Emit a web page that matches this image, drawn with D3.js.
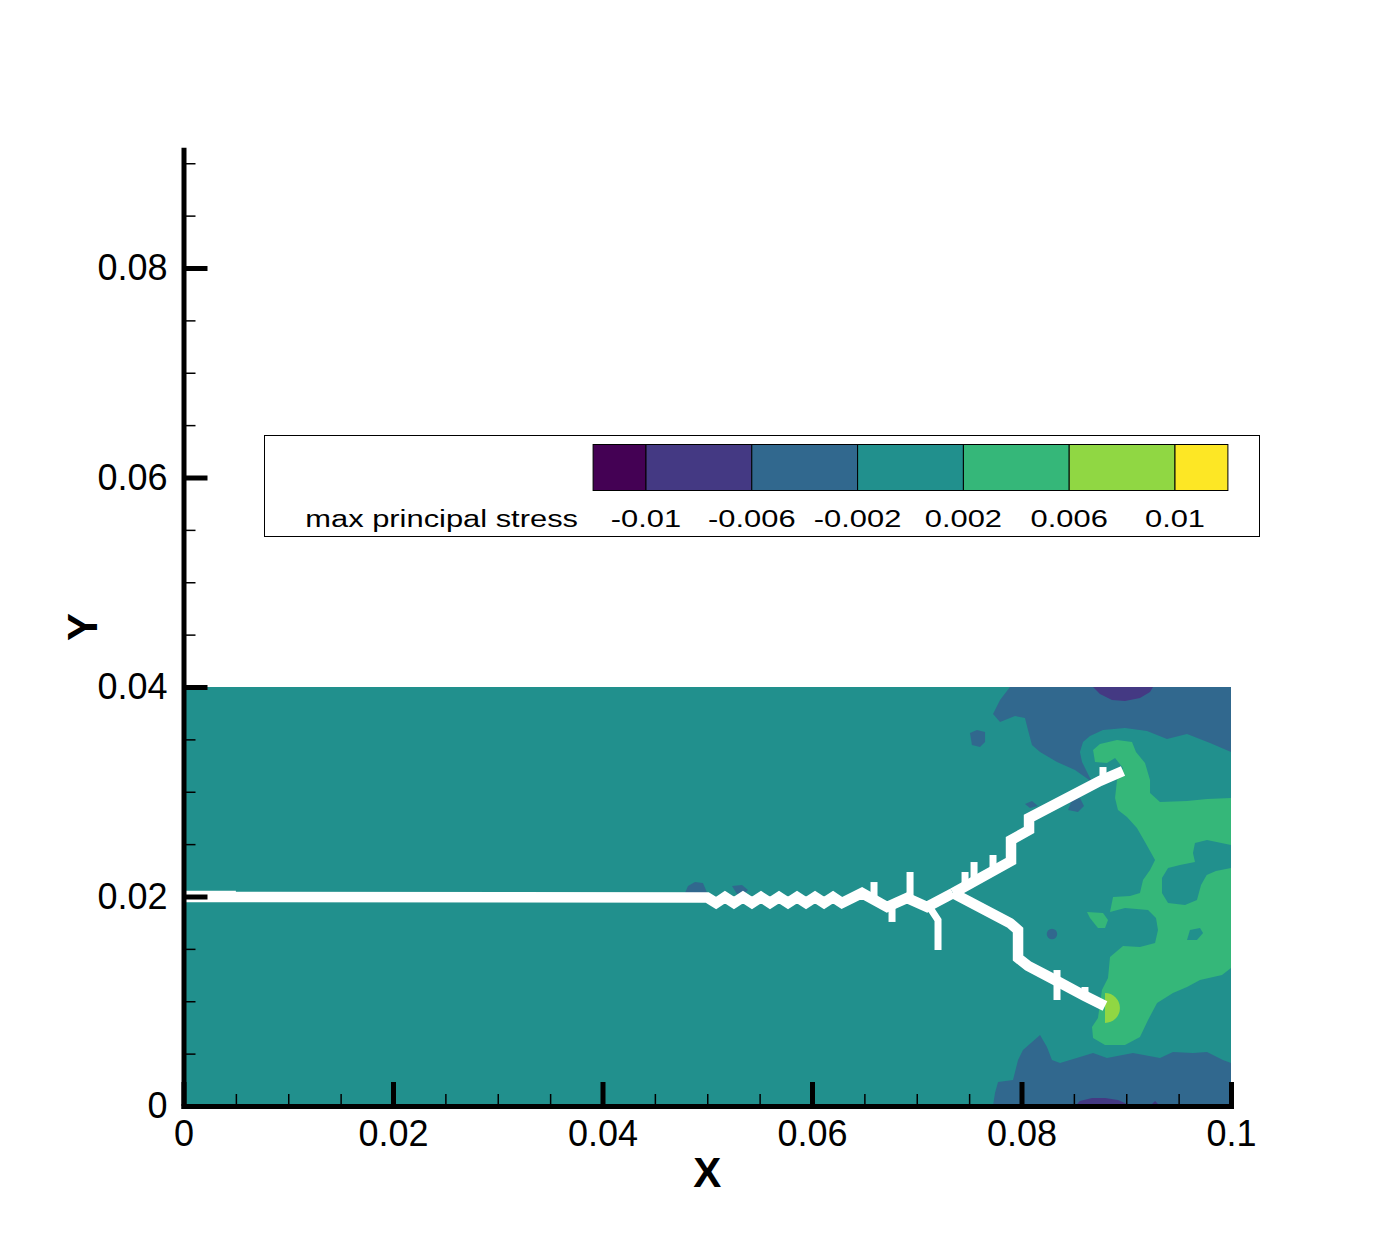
<!DOCTYPE html>
<html lang="en">
<head>
<meta charset="UTF-8">
<title>max principal stress</title>
<script src="https://d3js.org/d3.v7.min.js"></script>
<style>
    body { margin: 0; background: #fff; }
    svg text { font-family: "Liberation Sans", Arial, Helvetica, sans-serif; fill: #000; }
    .tick text { font-size: 36px; font-family: "Liberation Sans", Arial, sans-serif; }
    .axis-title { font-size: 42px; font-weight: bold; }
    .leg-text { font-size: 24.5px; }
</style>
</head>
<body>
<svg id="canvas" width="1400" height="1245"></svg>
<script>
// contour levels + viridis band colours
let levels = [-0.01, -0.006, -0.002, 0.002, 0.006, 0.01];
let levelLabels = ["-0.01", "-0.006", "-0.002", "0.002", "0.006", "0.01"];
let bandColors = ["#440154", "#443983", "#31688e", "#21908d", "#35b779", "#90d743", "#fde725"];
let legendRange = [-0.012, 0.012];

// axes (mm, labels in m)
let xMajor = [0, 20, 40, 60, 80, 100];
let xTickLabels = ["0", "0.02", "0.04", "0.06", "0.08", "0.1"];
let yMajor = [0, 20, 40, 60, 80];
let yTickLabels = ["0", "0.02", "0.04", "0.06", "0.08"];
let yTop = 91.3;

// domain of the plate (mm)
let plate = [[0, 0], [100, 40]];

// stress patches, coordinates in mm, value = representative stress
let blueTop = [[78.90,40.0],[100,40.0],[100,33.79],[98.0,34.65],[95.80,35.51],[93.89,35.04],[91.98,35.80],[89.88,36.09],[87.78,35.89],[86.54,35.32],[85.87,34.75],[85.58,33.79],[85.78,32.84],[86.73,30.93],[85.11,32.08],[83.39,32.84],[81.77,33.79],[81.0,34.46],[80.62,35.89],[80.33,37.04],[79.38,37.23],[77.95,36.66],[77.28,37.42],[77.95,38.76]];
let purpleTop = [[86.83,40.0],[87.49,39.33],[88.64,38.76],[89.88,38.66],[91.31,38.95],[92.27,39.52],[92.55,40.0]];
let blueBottom = [[77.28,0],[77.47,1.24],[77.76,2.29],[79.19,2.48],[79.67,4.39],[80.14,5.35],[81.77,6.78],[82.43,5.63],[82.91,4.39],[83.68,4.11],[85.58,4.68],[86.83,5.06],[88.16,4.58],[90.64,5.06],[93.22,4.58],[94.46,5.16],[96.37,5.06],[97.71,5.16],[99.23,4.39],[100,4.11],[100,0]];
let purpleBottom = [[85.11,0],[85.58,0.48],[86.73,0.76],[87.97,0.76],[89.21,0.57],[90.07,0.19],[90.07,0]];
let purpleBottom2 = [[92.27,0],[92.75,0.48],[93.22,0]];
let blueSpot1 = [[75.08,35.61],[75.75,35.89],[76.52,35.70],[76.52,34.75],[76.04,34.27],[75.27,34.46]];
let blueSpot2 = [[84.44,28.26],[84.82,29.21],[85.58,29.40],[85.97,28.64],[85.39,28.07]];
let blueSpot3 = [[80.33,28.83],[81.0,29.12],[81.58,28.64],[80.81,28.45]];
let blueSpot4 = [[47.88,20.33],[48.16,21.0],[48.83,21.38],[49.59,21.29],[50.0,20.33]];
let blueSpot5 = [[52.36,21.0],[53.32,21.10],[53.89,20.62],[53.51,20.24],[52.84,20.24]];
let greenMain = [[86.83,33.99],[87.49,34.56],[89.12,34.94],[90.55,34.75],[90.93,33.79],[91.79,32.74],[92.27,31.12],[92.27,29.88],[93.22,29.02],[95.80,29.12],[97.71,29.31],[100,29.40],
    [100,13.17],[99.14,12.51],[97.04,12.03],[95.80,11.36],[94.46,10.79],[92.94,9.83],[92.08,8.21],[91.31,6.59],[89.88,5.82],[87.97,5.82],[86.83,6.49],[86.73,7.54],[87.30,8.40],
    [87.68,11.07],[88.26,12.22],[88.45,14.22],[89.69,15.27],[91.31,15.18],[92.75,15.56],[93.03,16.80],[92.84,17.95],[92.08,18.71],[89.88,18.90],[88.45,18.52],[88.74,19.95],
    [90.36,20.05],[91.31,20.33],[91.60,21.58],[92.27,22.53],[92.75,23.48],[91.79,25.20],[91.02,26.54],[90.07,27.59],[89.21,28.26],[88.93,29.40],[89.12,31.12],[89.69,32.27],
    [88.93,33.22],[88.16,32.74],[87.02,32.84]];
let tealBay = [[100,24.92],[97.71,25.39],[96.56,25.11],[96.37,24.15],[96.56,23.29],[95.13,23.01],[93.99,22.72],[93.41,21.77],[93.41,20.33],[93.99,19.38],[95.61,19.19],[96.75,19.67],[97.14,21.10],[97.68,22.05],[98.56,22.43],[100,22.72]];
let tealHole = [[95.80,15.85],[96.08,16.80],[97.04,16.99],[97.33,16.52],[96.75,15.85]];
let greenBlob = [[86.25,18.52],[87.78,18.42],[88.26,17.76],[87.97,16.99],[87.30,16.99],[86.54,17.95]];
let blueDot = {c: [82.91, 16.42], r: 0.5};
let tipPatch = {c: [87.97, 9.36], r: 1.43};

let patches = [
    {pts: blueTop, v: -0.004}, {pts: purpleTop, v: -0.008},
    {pts: blueBottom, v: -0.004}, {pts: purpleBottom, v: -0.008}, {pts: purpleBottom2, v: -0.008},
    {pts: blueSpot1, v: -0.004}, {pts: blueSpot2, v: -0.004}, {pts: blueSpot3, v: -0.004},
    {pts: blueSpot4, v: -0.004}, {pts: blueSpot5, v: -0.004},
    {pts: greenMain, v: 0.004}, {pts: tealBay, v: 0}, {pts: tealHole, v: 0}, {pts: greenBlob, v: 0.004}
];

// crack path (mm)
let crackLead = [[0,20.05],[5.0,20.05]];
let crackMain = [[0,19.95],[50.0,19.9],[50.84,19.38],[51.69,19.95],[52.55,19.38],[53.41,19.95],[54.27,19.38],[55.13,19.95],[55.99,19.38],[56.85,19.95],[57.71,19.38],[58.57,19.95],[59.43,19.38],[60.29,19.95],[61.15,19.38],[62.01,19.95],[62.86,19.38],[64.77,20.33],[67.16,19.0],[69.07,19.86],[70.98,19.0],[73.46,20.33]];
let crackUpper = [[73.46,20.33],[79.0,23.39],[79.0,25.39],[80.72,26.35],[80.72,27.49],[87.49,31.03],[89.69,31.98]];
let crackLower = [[73.46,20.33],[78.90,17.47],[79.67,16.80],[79.67,14.13],[80.62,13.37],[83.20,12.03],[86.06,10.50],[87.97,9.55]];
let crackStubs = [
    [[65.92,19.67],[65.92,21.38]], [[67.64,19.47],[67.64,17.57]], [[69.36,19.67],[69.36,22.34]],
    [[71.27,18.90],[72.03,17.76],[72.03,14.89]], [[74.61,21.0],[74.61,22.34]], [[75.47,21.48],[75.47,23.29]],
    [[77.28,22.43],[77.28,23.96]], [[87.78,31.03],[87.78,32.36]], [[83.39,12.98],[83.39,10.12]], [[86.06,10.50],[86.06,11.36]]
];

let svg = d3.select('#canvas');
let x = d3.scaleLinear().domain([0, 100]).range([183.5, 1231]);
let y = d3.scaleLinear().domain([0, 80]).range([1106, 268]);
let color = d3.scaleThreshold().domain(levels).range(bandColors);

svg.append('clipPath').attr('id', 'plateClip')
    .append('rect')
    .attr('x', x(plate[0][0])).attr('y', y(plate[1][1]))
    .attr('width', x(plate[1][0]) - x(plate[0][0]))
    .attr('height', y(plate[0][1]) - y(plate[1][1]));

let field = svg.append('g').attr('clip-path', 'url(#plateClip)');

field.append('rect')
    .attr('x', x(plate[0][0])).attr('y', y(plate[1][1]))
    .attr('width', x(plate[1][0]) - x(plate[0][0]))
    .attr('height', y(plate[0][1]) - y(plate[1][1]))
    .attr('fill', color(0));

let area = d3.line().x(d => x(d[0])).y(d => y(d[1])).curve(d3.curveLinearClosed);
field.selectAll('path.patch')
    .data(patches)
    .enter()
    .append('path')
    .attr('class', 'patch')
    .attr('d', d => area(d.pts))
    .attr('fill', d => color(d.v));

field.append('circle')
    .attr('cx', x(blueDot.c[0])).attr('cy', y(blueDot.c[1]))
    .attr('r', x(blueDot.r) - x(0))
    .attr('fill', color(-0.004));

// half disc ahead of the lower crack tip
let tr = x(tipPatch.r) - x(0);
field.append('path')
    .attr('d', 'M' + x(tipPatch.c[0]) + ',' + y(tipPatch.c[1] + tipPatch.r) +
        ' A' + tr + ',' + tr + ' 0 0 1 ' + x(tipPatch.c[0]) + ',' + y(tipPatch.c[1] - tipPatch.r) + 'Z')
    .attr('fill', color(0.008));

let line = d3.line().x(d => x(d[0])).y(d => y(d[1]));
field.selectAll('path.crack')
    .data([crackLead, crackMain, crackUpper, crackLower])
    .enter()
    .append('path')
    .attr('class', 'crack')
    .attr('d', line)
    .attr('fill', 'none')
    .attr('stroke', '#fff')
    .attr('stroke-width', 10.5)
    .attr('stroke-linejoin', 'miter')
    .attr('stroke-miterlimit', 3);

field.selectAll('path.stub')
    .data(crackStubs)
    .enter()
    .append('path')
    .attr('class', 'stub')
    .attr('d', line)
    .attr('fill', 'none')
    .attr('stroke', '#fff')
    .attr('stroke-width', 7);

// axes
let yAx = d3.scaleLinear().domain([0, yTop]).range([y(0), y(yTop)]);

let xAxis = svg.append('g').attr('transform', 'translate(0,' + y(0) + ')')
    .call(d3.axisBottom(x).tickValues(xMajor).tickSize(-24).tickSizeOuter(0).tickPadding(14)
        .tickFormat((d, i) => xTickLabels[i]));
svg.append('g').attr('transform', 'translate(0,' + y(0) + ')')
    .call(d3.axisBottom(x).tickValues(d3.range(5, 100, 5).filter(v => v % 20 !== 0))
        .tickSize(-12).tickSizeOuter(0).tickFormat(''))
    .call(g => g.select('.domain').remove())
    .selectAll('line').attr('stroke-width', 1.5);

let yAxis = svg.append('g').attr('transform', 'translate(' + x(0) + ',0)')
    .call(d3.axisLeft(yAx).tickValues(yMajor).tickSize(-24).tickSizeOuter(0).tickPadding(16)
        .tickFormat((d, i) => yTickLabels[i]));
svg.append('g').attr('transform', 'translate(' + x(0) + ',0)')
    .call(d3.axisLeft(yAx).tickValues(d3.range(5, 91, 5).filter(v => v % 20 !== 0))
        .tickSize(-12).tickSizeOuter(0).tickFormat(''))
    .call(g => g.select('.domain').remove())
    .selectAll('line').attr('stroke-width', 1.5);

[xAxis, yAxis].forEach(g => {
    g.select('.domain').attr('stroke-width', 5).attr('stroke-linecap', 'square');
    g.selectAll('.tick line').attr('stroke-width', 5);
    g.selectAll('.tick text').attr('font-size', 36).attr('font-family', '"Liberation Sans", Arial, sans-serif');
});

svg.append('text').attr('class', 'axis-title')
    .attr('x', (x(0) + x(100)) / 2).attr('y', 1187)
    .attr('text-anchor', 'middle').text('X');
svg.append('text').attr('class', 'axis-title')
    .attr('transform', 'translate(97,627) rotate(-90)')
    .attr('text-anchor', 'middle').text('Y');

// legend
let legend = svg.append('g');
legend.append('rect')
    .attr('x', 264.5).attr('y', 435.5).attr('width', 995).attr('height', 101)
    .attr('fill', '#fff').attr('stroke', '#000').attr('stroke-width', 1);

let lx = d3.scaleLinear().domain([levels[0], levels[levels.length - 1]]).range([646, 1175]);
let edges = [legendRange[0]].concat(levels, [legendRange[1]]);
legend.selectAll('rect.cell')
    .data(bandColors)
    .enter()
    .append('rect')
    .attr('class', 'cell')
    .attr('x', (d, i) => lx(edges[i]))
    .attr('y', 444.5)
    .attr('width', (d, i) => lx(edges[i + 1]) - lx(edges[i]))
    .attr('height', 46)
    .attr('fill', d => d)
    .attr('stroke', '#000')
    .attr('stroke-width', 1);

legend.selectAll('text.lvl')
    .data(levels)
    .enter()
    .append('text')
    .attr('class', 'leg-text lvl')
    .attr('transform', d => 'translate(' + lx(d) + ',527) scale(1.26,1)')
    .attr('text-anchor', 'middle')
    .text((d, i) => levelLabels[i]);

legend.append('text')
    .attr('class', 'leg-text')
    .attr('transform', 'translate(578,527) scale(1.26,1)')
    .attr('text-anchor', 'end')
    .text('max principal stress');
</script>
</body>
</html>
